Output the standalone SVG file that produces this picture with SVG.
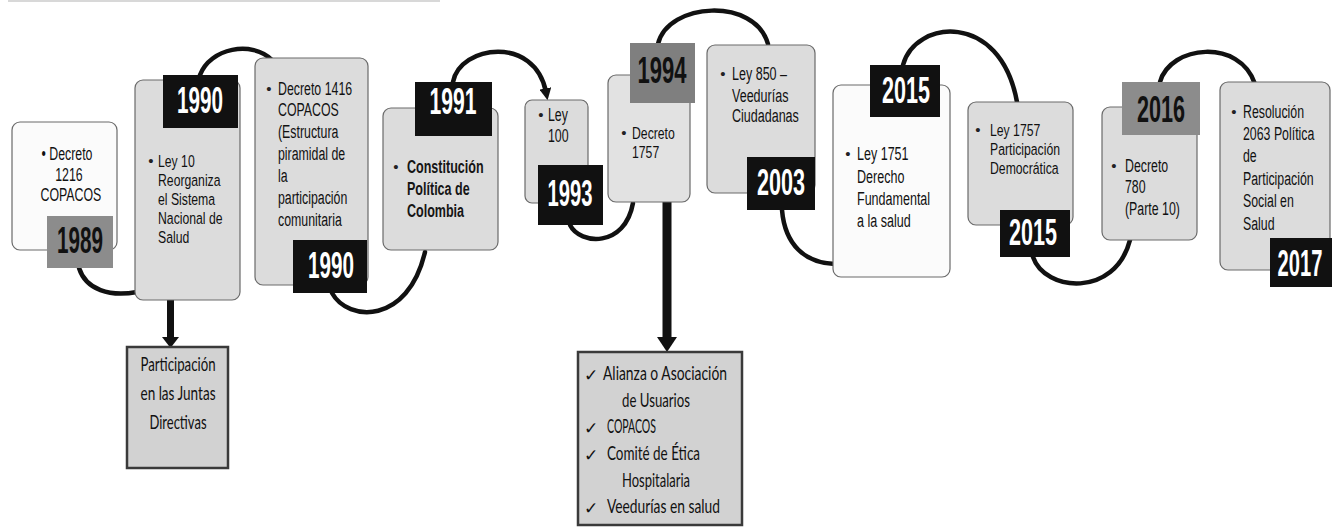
<svg xmlns="http://www.w3.org/2000/svg" width="1332" height="529" viewBox="0 0 1332 529">
<style>
.box{stroke:#6a6a6a;stroke-width:1.2}
.g{fill:#dcdcdc}
.w{fill:#fbfbfb}
.lbl-k{fill:#111}
.lbl-g{fill:#8c8c8c}
.yr{font-family:"Liberation Sans",Arial,sans-serif;font-weight:bold;font-size:36px;text-anchor:middle}
.yw{fill:#fff}
.yb{fill:#111}
.t{font-family:"Liberation Sans",Arial,sans-serif;font-size:19px;fill:#111}
.ts{font-family:"Liberation Sans",Arial,sans-serif;font-size:17px;fill:#111}
.tb{font-family:"Liberation Sans",Arial,sans-serif;font-size:19px;font-weight:bold;fill:#151515}
.c{text-anchor:middle}
.b{font-family:"Liberation Sans",Arial,sans-serif;font-size:15px;fill:#222;text-anchor:middle}
.conn{fill:none;stroke:#111;stroke-width:4.5;stroke-linecap:round}
.cal{font-family:Lato,"Open Sans","Liberation Sans",sans-serif;font-size:19px;fill:#111}
.chk{font-family:"DejaVu Sans",sans-serif;font-size:17px;fill:#111}
.sub{fill:#d2d2d2;stroke:#3a3a3a;stroke-width:2.5}
</style>
<defs>
<marker id="ah" viewBox="0 0 10 10" refX="3" refY="5" markerWidth="12" markerHeight="12" markerUnits="userSpaceOnUse" orient="auto">
<path d="M0,0 L10,5 L0,10 z" fill="#111"/>
</marker>
</defs>
<rect width="1332" height="529" fill="#fff"/>
<line x1="8" y1="1" x2="440" y2="1" stroke="#9a9a9a" stroke-width="1.5" opacity="0.5"/>

<g id="connectors">
<path class="conn" d="M79 268 C86 290,110 297,137 292"/>
<path class="conn" d="M200 75 C210 48,252 40,272 60"/>
<path class="conn" d="M332 293 C348 322,408 325,425 252"/>
<path class="conn" d="M453 82 C460 45,535 35,546 92" marker-end="url(#ah)"/>
<path class="conn" d="M570 225 C580 245,625 248,633 203"/>
<path class="conn" d="M658 44 C668 2,755 -3,768 44"/>
<path class="conn" d="M782 210 C785 245,805 263,835 264"/>
<path class="conn" d="M903 65 C915 20,1000 10,1017 102"/>
<path class="conn" d="M1033 257 C1045 292,1115 298,1130 240"/>
<path class="conn" d="M1160 82 C1170 45,1240 38,1255 84"/>
<line x1="170.5" y1="300" x2="170.5" y2="339" stroke="#111" stroke-width="7"/>
<polygon points="162,337 179,337 170.5,348" fill="#111"/>
<line x1="667" y1="202" x2="667" y2="339" stroke="#111" stroke-width="9"/>
<polygon points="657,337 677,337 667,352" fill="#111"/>
</g>

<g id="n1989">
<rect class="box w" x="12" y="122" width="105" height="128" rx="8"/>
<g transform="translate(67 0) scale(0.65 1)">
<text class="t c" x="0" y="160">•  Decreto</text>
<text class="t c" x="3" y="181">1216</text>
<text class="t c" x="6" y="201">COPACOS</text>
</g>
<rect class="lbl-g" x="47" y="216" width="66" height="52"/>
<text class="yr yb" x="80" y="253" textLength="46" lengthAdjust="spacingAndGlyphs">1989</text>
</g>

<g id="n1990a">
<rect class="box g" x="135" y="80" width="105" height="220" rx="8"/>
<text class="b" x="151" y="166">•</text>
<g transform="translate(158 0) scale(0.72 1)">
<text class="ts" y="167">Ley 10</text>
<text class="ts" y="186">Reorganiza</text>
<text class="ts" y="205">el Sistema</text>
<text class="ts" y="224">Nacional de</text>
<text class="ts" y="243">Salud</text>
</g>
<rect class="lbl-k" x="163" y="75" width="75" height="53"/>
<text class="yr yw" x="200" y="113" textLength="46" lengthAdjust="spacingAndGlyphs">1990</text>
</g>

<g id="n1990b">
<rect class="box g" x="255" y="58" width="113" height="227" rx="8"/>
<text class="b" x="269" y="94">•</text>
<g transform="translate(278 0) scale(0.65 1)">
<text class="t" y="95">Decreto 1416</text>
<text class="t" y="116">COPACOS</text>
<text class="t" y="138">(Estructura</text>
<text class="t" y="160">piramidal de</text>
<text class="t" y="182">la</text>
<text class="t" y="204">participación</text>
<text class="t" y="226">comunitaria</text>
</g>
<rect class="lbl-k" x="293" y="240" width="74" height="53"/>
<text class="yr yw" x="331" y="278" textLength="46" lengthAdjust="spacingAndGlyphs">1990</text>
</g>

<g id="n1991">
<rect class="box g" x="383" y="108" width="115" height="142" rx="8"/>
<text class="b" x="396" y="172">•</text>
<g transform="translate(407 0) scale(0.66 1)">
<text class="tb" y="173">Constitución</text>
<text class="tb" y="195">Política de</text>
<text class="tb" y="217">Colombia</text>
</g>
<rect class="lbl-k" x="415" y="82" width="77" height="54"/>
<text class="yr yw" x="453" y="114" textLength="47" lengthAdjust="spacingAndGlyphs">1991</text>
</g>

<g id="n1993">
<rect class="box g" x="525" y="100" width="63" height="103" rx="7"/>
<text class="b" x="541" y="120">•</text>
<g transform="translate(548 0) scale(0.65 1)">
<text class="t" y="121">Ley</text>
<text class="t" y="142">100</text>
</g>
<rect class="lbl-k" x="538" y="165" width="65" height="60"/>
<text class="yr yw" x="570" y="206" font-size="40" textLength="45" lengthAdjust="spacingAndGlyphs">1993</text>
</g>

<g id="n1994">
<rect class="box" fill="#e2e2e2" x="608" y="75" width="82" height="127" rx="8"/>
<text class="b" x="624" y="138">•</text>
<g transform="translate(632 0) scale(0.72 1)">
<text class="ts" y="139">Decreto</text>
<text class="ts" y="158">1757</text>
</g>
<rect fill="#7f7f7f" x="630" y="43" width="65" height="60"/>
<text class="yr yb" x="662" y="83" font-size="40" textLength="49" lengthAdjust="spacingAndGlyphs">1994</text>
</g>

<g id="n2003">
<rect class="box g" x="707" y="45" width="108" height="148" rx="8"/>
<text class="b" x="723" y="79">•</text>
<g transform="translate(732 0) scale(0.66 1)">
<text class="t" y="80">Ley 850 –</text>
<text class="t" y="102">Veedurías</text>
<text class="t" y="122">Ciudadanas</text>
</g>
<rect class="lbl-k" x="747" y="157" width="68" height="53"/>
<text class="yr yw" x="781" y="195" textLength="48" lengthAdjust="spacingAndGlyphs">2003</text>
</g>

<g id="n2015a">
<rect class="box w" x="833" y="85" width="117" height="192" rx="8"/>
<text class="b" x="848" y="159">•</text>
<g transform="translate(857 0) scale(0.66 1)">
<text class="t" y="160">Ley 1751</text>
<text class="t" y="183">Derecho</text>
<text class="t" y="205">Fundamental</text>
<text class="t" y="227">a la salud</text>
</g>
<rect class="lbl-k" x="870" y="65" width="70" height="52"/>
<text class="yr yw" x="906" y="103" textLength="48" lengthAdjust="spacingAndGlyphs">2015</text>
</g>

<g id="n2015b">
<rect class="box g" x="968" y="102" width="105" height="123" rx="8"/>
<text class="b" x="978" y="135">•</text>
<g transform="translate(990 0) scale(0.72 1)">
<text class="ts" y="136">Ley 1757</text>
<text class="ts" y="155">Participación</text>
<text class="ts" y="174">Democrática</text>
</g>
<rect class="lbl-k" x="1000" y="210" width="70" height="47"/>
<text class="yr yw" x="1033" y="245" textLength="48" lengthAdjust="spacingAndGlyphs">2015</text>
</g>

<g id="n2016">
<rect class="box g" x="1102" y="107" width="95" height="133" rx="8"/>
<text class="b" x="1114" y="171">•</text>
<g transform="translate(1125 0) scale(0.65 1)">
<text class="t" y="172">Decreto</text>
<text class="t" y="193">780</text>
<text class="t" y="215">(Parte 10)</text>
</g>
<rect class="lbl-g" x="1122" y="82" width="78" height="53"/>
<text class="yr yb" x="1161" y="122" textLength="48" lengthAdjust="spacingAndGlyphs">2016</text>
</g>

<g id="n2017">
<rect class="box g" x="1220" y="82" width="110" height="188" rx="8"/>
<text class="b" x="1234" y="117">•</text>
<g transform="translate(1243 0) scale(0.65 1)">
<text class="t" y="118">Resolución</text>
<text class="t" y="140">2063 Política</text>
<text class="t" y="162">de</text>
<text class="t" y="185">Participación</text>
<text class="t" y="207">Social en</text>
<text class="t" y="230">Salud</text>
</g>
<rect class="lbl-k" x="1270" y="238" width="62" height="49"/>
<g transform="translate(1300 0) scale(0.56 1)">
<text class="yr yw" x="0" y="276">2017</text>
</g>
</g>

<g id="juntas">
<rect class="sub" x="127" y="347" width="101" height="121"/>
<text class="cal c" x="178" y="371" textLength="75" lengthAdjust="spacingAndGlyphs">Participación</text>
<text class="cal c" x="178" y="400" textLength="75" lengthAdjust="spacingAndGlyphs">en las Juntas</text>
<text class="cal c" x="178" y="429" textLength="57" lengthAdjust="spacingAndGlyphs">Directivas</text>
</g>

<g id="organos">
<rect class="sub" x="578" y="352" width="164" height="173"/>
<text class="chk" x="584" y="381">✓</text>
<text class="cal" x="603" y="380" textLength="124" lengthAdjust="spacingAndGlyphs">Alianza o Asociación</text>
<text class="cal" x="622" y="407" textLength="68" lengthAdjust="spacingAndGlyphs">de Usuarios</text>
<text class="chk" x="584" y="434">✓</text>
<text class="cal" x="607" y="433" textLength="49" lengthAdjust="spacingAndGlyphs">COPACOS</text>
<text class="chk" x="584" y="461">✓</text>
<text class="cal" x="607" y="460" textLength="93" lengthAdjust="spacingAndGlyphs">Comité de Ética</text>
<text class="cal" x="622" y="487" textLength="68" lengthAdjust="spacingAndGlyphs">Hospitalaria</text>
<text class="chk" x="584" y="514">✓</text>
<text class="cal" x="607" y="513" textLength="113" lengthAdjust="spacingAndGlyphs">Veedurías en salud</text>
</g>
</svg>
